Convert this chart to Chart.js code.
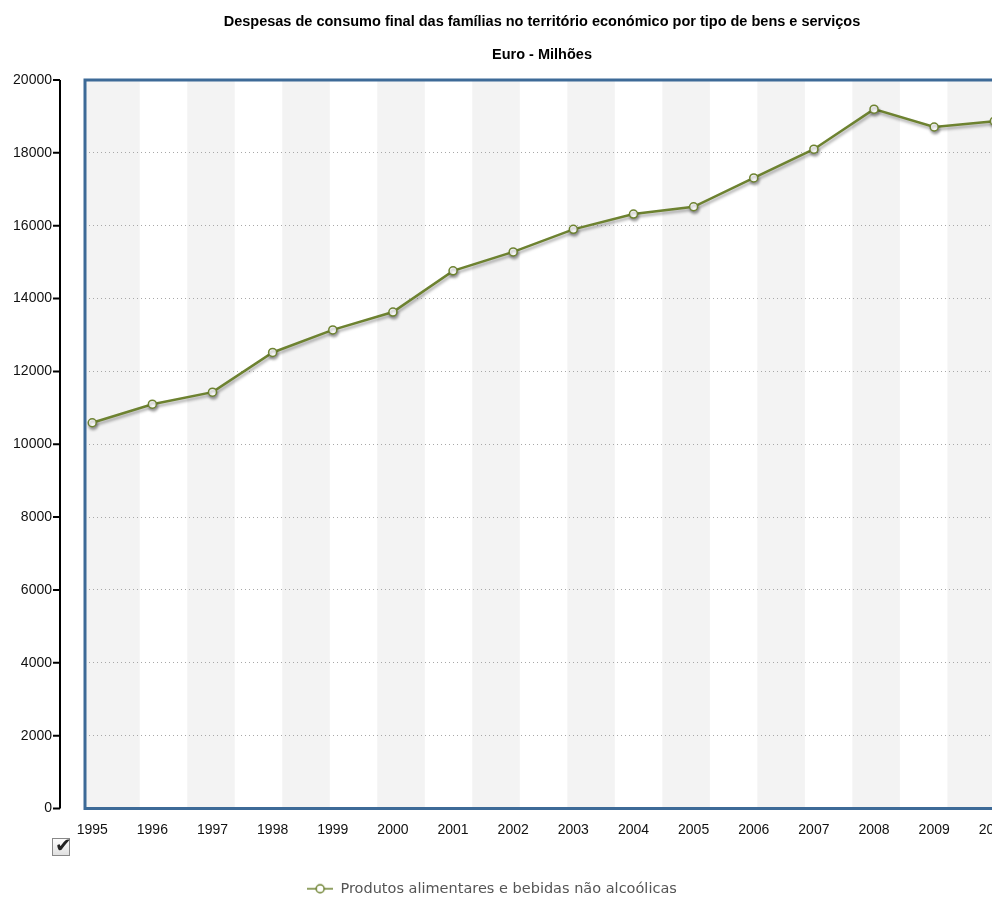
<!DOCTYPE html>
<html>
<head>
<meta charset="utf-8">
<script src="https://cdn.jsdelivr.net/npm/chart.js@4.4.0/dist/chart.umd.min.js"></script>
<style>
  html, body { margin: 0; padding: 0; background: #fff; overflow: hidden; }
  #wrap { position: relative; width: 1084px; height: 899px; }
  #check {
    position: absolute; left: 52px; top: 838px; width: 16px; height: 16px;
    border: 1px solid #888; background: linear-gradient(#fdfdfd, #e0e0e0);
  }
  #check span {
    position: absolute; left: 2px; top: -6px;
    font: bold 20px "DejaVu Sans", sans-serif; color: #222;
  }
</style>
</head>
<body>
<div id="wrap">
  <canvas id="myChart"></canvas>
  <div id="check"><span>✔</span></div>
</div>
<script>
const ctx = document.getElementById('myChart');

const years = [1995, 1996, 1997, 1998, 1999, 2000, 2001, 2002, 2003, 2004, 2005, 2006, 2007, 2008, 2009, 2010];
const food = [10590, 11100, 11430, 12520, 13140, 13630, 14760, 15280, 15900, 16320, 16520, 17310, 18100, 19200, 18710, 18870];
const yTicks = [0, 2000, 4000, 6000, 8000, 10000, 12000, 14000, 16000, 18000, 20000];

const olive = '#6d8230';

// little "-o-" marker for the legend
const legendMark = document.createElement('canvas');
legendMark.width = 26;
legendMark.height = 12;
let m = legendMark.getContext('2d');
m.strokeStyle = olive;
m.lineWidth = 1.5;
m.beginPath(); m.moveTo(0, 6); m.lineTo(26, 6); m.stroke();
m.fillStyle = '#fff';
m.beginPath(); m.arc(13, 6, 4, 0, Math.PI * 2); m.fill(); m.stroke();

const bands = {
  id: 'bands',
  beforeDraw(chart) {
    const a = chart.chartArea, x = chart.scales.x, c = chart.ctx;
    const x0 = x.getPixelForValue(years[0]);
    const bw = (x.getPixelForValue(years[1]) - x0) * 0.79;
    c.save();
    c.fillStyle = '#f3f3f3';
    c.fillRect(a.left, a.top, x0 + bw - a.left, a.height);
    for (let k = 2; x0 + k * bw < a.right; k += 2) {
      c.fillRect(x0 + k * bw, a.top, Math.min(bw, a.right - x0 - k * bw), a.height);
    }
    c.restore();
  }
};

const shadow = {
  id: 'shadow',
  beforeDatasetDraw(chart) {
    const c = chart.ctx;
    c.save();
    c.shadowColor = 'rgba(0,0,0,0.35)';
    c.shadowBlur = 3;
    c.shadowOffsetX = 1;
    c.shadowOffsetY = 2.5;
  },
  afterDatasetDraw(chart) { chart.ctx.restore(); }
};

const frame = {
  id: 'frame',
  afterLayout(chart) {
    const lg = chart.legend;
    lg.left -= 50;
    lg.right -= 50;
    lg.top += 7;
    lg.bottom += 7;
  },
  afterDraw(chart) {
    const a = chart.chartArea, y = chart.scales.y, c = chart.ctx;
    c.save();
    c.strokeStyle = '#3d6a97';
    c.lineWidth = 3;
    c.strokeRect(a.left, a.top, a.width, a.height);
    // separate y axis line with ticks
    c.strokeStyle = '#000';
    c.lineWidth = 2;
    c.beginPath();
    c.moveTo(a.left - 25, a.top);
    c.lineTo(a.left - 25, a.bottom);
    y.ticks.forEach(t => {
      const py = y.getPixelForValue(t.value);
      c.moveTo(a.left - 32, py);
      c.lineTo(a.left - 25, py);
    });
    c.stroke();
    c.restore();
  }
};

new Chart(ctx, {
  type: 'line',
  data: {
    datasets: [{
      label: 'Produtos alimentares e bebidas não alcoólicas',
      data: years.map((yr, i) => ({ x: yr, y: food[i] })),
      borderColor: olive,
      borderWidth: 2.5,
      pointRadius: 4,
      pointBorderWidth: 1.5,
      pointBackgroundColor: '#fff',
      pointBorderColor: olive,
      tension: 0
    }]
  },
  options: {
    responsive: true,
    maintainAspectRatio: false,
    animation: false,
    layout: { padding: 0 },
    plugins: {
      title: {
        display: true,
        text: 'Despesas de consumo final das famílias no território económico por tipo de bens e serviços',
        color: '#000',
        font: { family: 'Liberation Sans, Arial', size: 14.5, weight: 'bold' },
        padding: { top: 13.3, bottom: 15.6 }
      },
      subtitle: {
        display: true,
        text: 'Euro - Milhões',
        color: '#000',
        font: { family: 'Liberation Sans, Arial', size: 14.5, weight: 'bold' },
        padding: { top: 0, bottom: 16.3 }
      },
      legend: {
        position: 'bottom',
        labels: {
          usePointStyle: true,
          pointStyle: legendMark,
          pointStyleWidth: 26,
          color: '#555',
          padding: 1,
          font: { family: 'DejaVu Sans, Verdana', size: 14.5 }
        }
      },
      tooltip: { enabled: false }
    },
    scales: {
      x: {
        type: 'linear',
        min: 1994.88,
        max: 2011.40,
        afterBuildTicks: s => { s.ticks = years.map(v => ({ value: v })); },
        afterFit: s => { s.height = 65; },
        grid: { display: false, drawTicks: false },
        border: { display: false },
        ticks: {
          color: '#111',
          padding: 13,
          maxRotation: 0,
          autoSkip: false,
          font: { family: 'Liberation Sans, Arial', size: 14 },
          callback: v => String(v)
        }
      },
      y: {
        min: 0,
        max: 20000,
        afterBuildTicks: s => { s.ticks = yTicks.map(v => ({ value: v })); },
        afterFit: s => { s.width = 85; },
        grid: {
          drawTicks: false,
          color: c => (c.tick.value === 0 || c.tick.value === 20000) ? 'rgba(0,0,0,0)' : '#a8a8a8',
          lineWidth: 1
        },
        border: { display: false, dash: [1, 3] },
        ticks: {
          color: '#111',
          padding: 33,
          font: { family: 'Liberation Sans, Arial', size: 14 },
          callback: v => String(v)
        }
      }
    }
  },
  plugins: [bands, shadow, frame]
});
</script>
</body>
</html>
